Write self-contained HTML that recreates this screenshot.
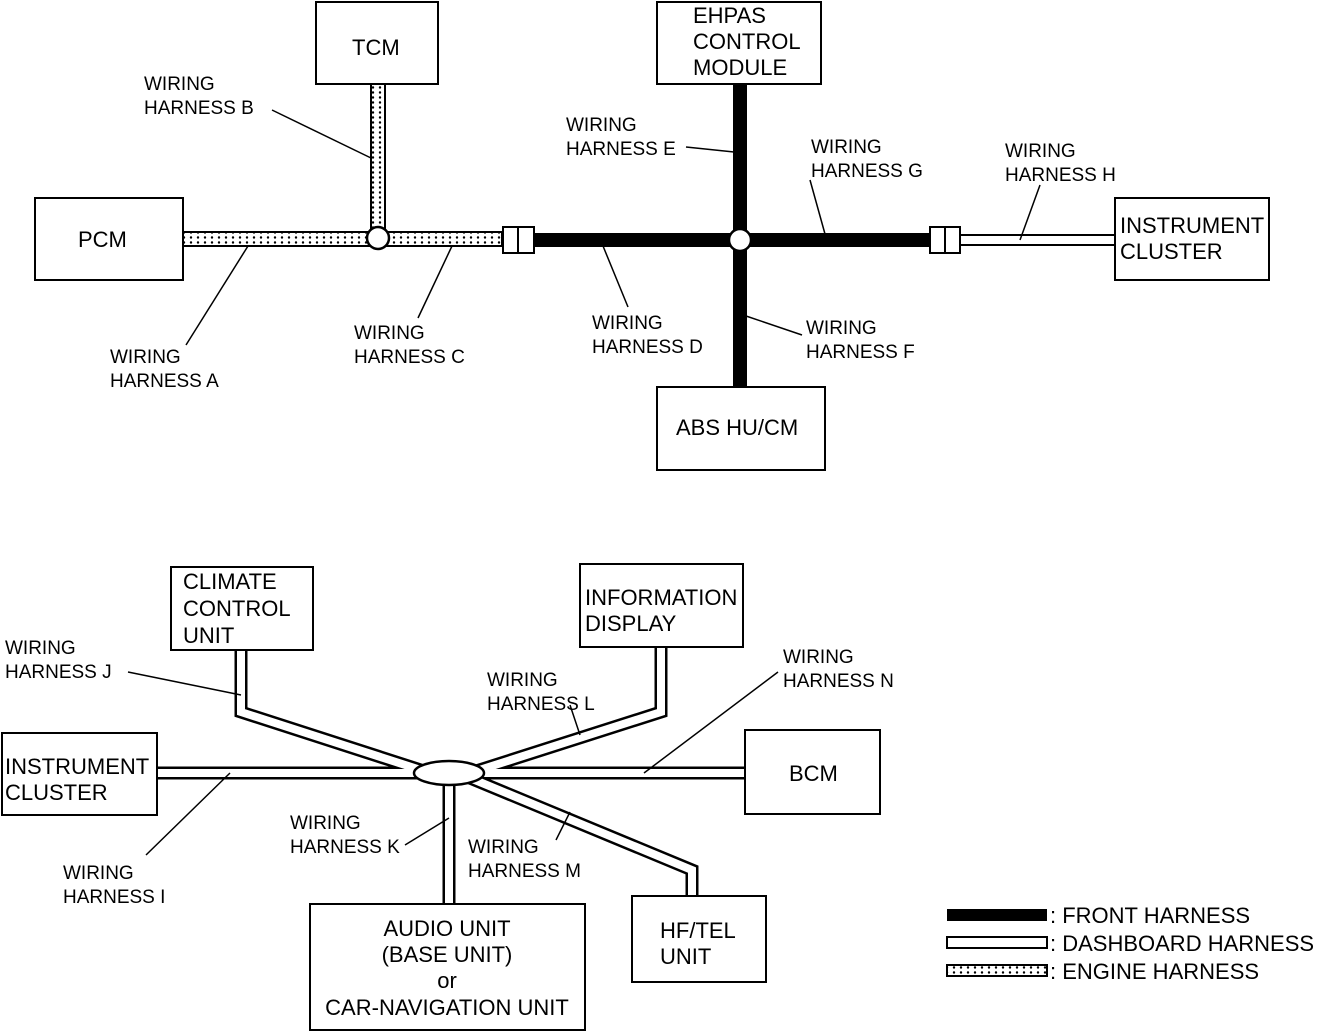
<!DOCTYPE html>
<html><head><meta charset="utf-8"><style>
html,body{margin:0;padding:0;background:#fff;}
svg{display:block;}
text{font-family:"Liberation Sans",sans-serif;fill:#000;}
.l{font-size:19px;}
.b{font-size:22px;}
</style></head><body>
<svg width="1335" height="1033" viewBox="0 0 1335 1033" xmlns="http://www.w3.org/2000/svg">
<defs>
<pattern id="dots" width="7" height="5" patternUnits="userSpaceOnUse">
<rect width="7" height="5" fill="#fff"/>
<circle cx="2" cy="2.5" r="1.2" fill="#000"/>
</pattern>
</defs>
<g fill="none" stroke="#000" stroke-width="2">
<rect x="316" y="2" width="122" height="82" fill="#fff"/>
<rect x="35" y="198" width="148" height="82" fill="#fff"/>
<rect x="657" y="2" width="164" height="82" fill="#fff"/>
<rect x="657" y="387" width="168" height="83" fill="#fff"/>
<rect x="1115" y="198" width="154" height="82" fill="#fff"/>
</g>
<rect x="183" y="232" width="319" height="14" fill="url(#dots)" stroke="#000" stroke-width="2"/>
<rect x="371" y="84" width="14" height="154" fill="url(#dots)" stroke="#000" stroke-width="2"/>
<circle cx="378" cy="238" r="11" fill="#fff" stroke="#000" stroke-width="2.5"/>
<rect x="534" y="233" width="396" height="14" fill="#000"/>
<rect x="733" y="84" width="14" height="303" fill="#000"/>
<circle cx="740" cy="240" r="11" fill="#fff" stroke="#000" stroke-width="2.5"/>
<g fill="#fff" stroke="#000" stroke-width="2">
<rect x="503" y="227" width="31" height="26"/><line x1="518" y1="227" x2="518" y2="253"/>
<rect x="930" y="227" width="30" height="26"/><line x1="945" y1="227" x2="945" y2="253"/>
</g>
<rect x="960" y="235" width="155" height="10" fill="#fff" stroke="#000" stroke-width="2"/>
<g stroke="#000" stroke-width="1.5">
<line x1="272" y1="110" x2="371" y2="158"/>
<line x1="186" y1="345" x2="248" y2="246"/>
<line x1="418" y1="318" x2="452" y2="246"/>
<line x1="628" y1="307" x2="603" y2="246"/>
<line x1="686" y1="147" x2="734" y2="152"/>
<line x1="810" y1="180" x2="825" y2="234"/>
<line x1="802" y1="335" x2="746" y2="316"/>
<line x1="1040" y1="185" x2="1020" y2="240"/>
</g>
<text class="b" x="352" y="55">TCM</text>
<text class="b" x="78" y="247">PCM</text>
<text class="b" x="693" y="23">EHPAS</text>
<text class="b" x="693" y="49">CONTROL</text>
<text class="b" x="693" y="75">MODULE</text>
<text class="b" x="676" y="435">ABS HU/CM</text>
<text class="b" x="1120" y="233">INSTRUMENT</text>
<text class="b" x="1120" y="259">CLUSTER</text>
<text class="l" x="144" y="90">WIRING</text><text class="l" x="144" y="114">HARNESS B</text>
<text class="l" x="110" y="363">WIRING</text><text class="l" x="110" y="387">HARNESS A</text>
<text class="l" x="354" y="339">WIRING</text><text class="l" x="354" y="363">HARNESS C</text>
<text class="l" x="592" y="329">WIRING</text><text class="l" x="592" y="353">HARNESS D</text>
<text class="l" x="566" y="131">WIRING</text><text class="l" x="566" y="155">HARNESS E</text>
<text class="l" x="811" y="153">WIRING</text><text class="l" x="811" y="177">HARNESS G</text>
<text class="l" x="806" y="334">WIRING</text><text class="l" x="806" y="358">HARNESS F</text>
<text class="l" x="1005" y="157">WIRING</text><text class="l" x="1005" y="181">HARNESS H</text>
<g fill="#fff" stroke="#000" stroke-width="2">
<rect x="171" y="567" width="142" height="83"/>
<rect x="580" y="564" width="163" height="83"/>
<rect x="2" y="733" width="155" height="82"/>
<rect x="745" y="730" width="135" height="84"/>
<rect x="310" y="904" width="275" height="126"/>
<rect x="632" y="896" width="134" height="86"/>
</g>
<g fill="none" stroke-linejoin="miter">
<g stroke="#000" stroke-width="13">
<polyline points="241,650 241,712 430,773"/>
<polyline points="661,647 661,712 470,773"/>
<line x1="157" y1="773" x2="440" y2="773"/>
<line x1="460" y1="773" x2="745" y2="773"/>
<line x1="449" y1="780" x2="449" y2="904"/>
<polyline points="470,778 692,870 692,896"/>
</g>
<g stroke="#fff" stroke-width="8">
<polyline points="241,651 241,712 430,773"/>
<polyline points="661,648 661,712 470,773"/>
<line x1="158" y1="773" x2="440" y2="773"/>
<line x1="460" y1="773" x2="744" y2="773"/>
<line x1="449" y1="780" x2="449" y2="903"/>
<polyline points="470,778 692,870 692,895"/>
</g>
</g>
<ellipse cx="449" cy="773" rx="35" ry="12" fill="#fff" stroke="#000" stroke-width="2.5"/>
<g stroke="#000" stroke-width="1.5">
<line x1="128" y1="672" x2="241" y2="695"/>
<line x1="570" y1="705" x2="580" y2="735"/>
<line x1="778" y1="672" x2="644" y2="773"/>
<line x1="146" y1="855" x2="230" y2="773"/>
<line x1="405" y1="845" x2="449" y2="818"/>
<line x1="556" y1="840" x2="570" y2="812"/>
</g>
<text class="b" x="183" y="589">CLIMATE</text>
<text class="b" x="183" y="616">CONTROL</text>
<text class="b" x="183" y="643">UNIT</text>
<text class="b" x="585" y="605">INFORMATION</text>
<text class="b" x="585" y="631">DISPLAY</text>
<text class="b" x="5" y="774">INSTRUMENT</text>
<text class="b" x="5" y="800">CLUSTER</text>
<text class="b" x="789" y="781">BCM</text>
<text class="b" x="447" y="936" text-anchor="middle">AUDIO UNIT</text>
<text class="b" x="447" y="962" text-anchor="middle">(BASE UNIT)</text>
<text class="b" x="447" y="988" text-anchor="middle">or</text>
<text class="b" x="447" y="1015" text-anchor="middle">CAR-NAVIGATION UNIT</text>
<text class="b" x="660" y="938">HF/TEL</text>
<text class="b" x="660" y="964">UNIT</text>
<text class="l" x="5" y="654">WIRING</text><text class="l" x="5" y="678">HARNESS J</text>
<text class="l" x="487" y="686">WIRING</text><text class="l" x="487" y="710">HARNESS L</text>
<text class="l" x="783" y="663">WIRING</text><text class="l" x="783" y="687">HARNESS N</text>
<text class="l" x="63" y="879">WIRING</text><text class="l" x="63" y="903">HARNESS I</text>
<text class="l" x="290" y="829">WIRING</text><text class="l" x="290" y="853">HARNESS K</text>
<text class="l" x="468" y="853">WIRING</text><text class="l" x="468" y="877">HARNESS M</text>
<rect x="947" y="909" width="100" height="12" fill="#000"/>
<rect x="947" y="937" width="100" height="11" fill="#fff" stroke="#000" stroke-width="2"/>
<rect x="947" y="965" width="100" height="11" fill="url(#dots)" stroke="#000" stroke-width="2"/>
<text class="b" x="1050" y="923">: FRONT HARNESS</text>
<text class="b" x="1050" y="951">: DASHBOARD HARNESS</text>
<text class="b" x="1050" y="979">: ENGINE HARNESS</text>
</svg>
</body></html>
